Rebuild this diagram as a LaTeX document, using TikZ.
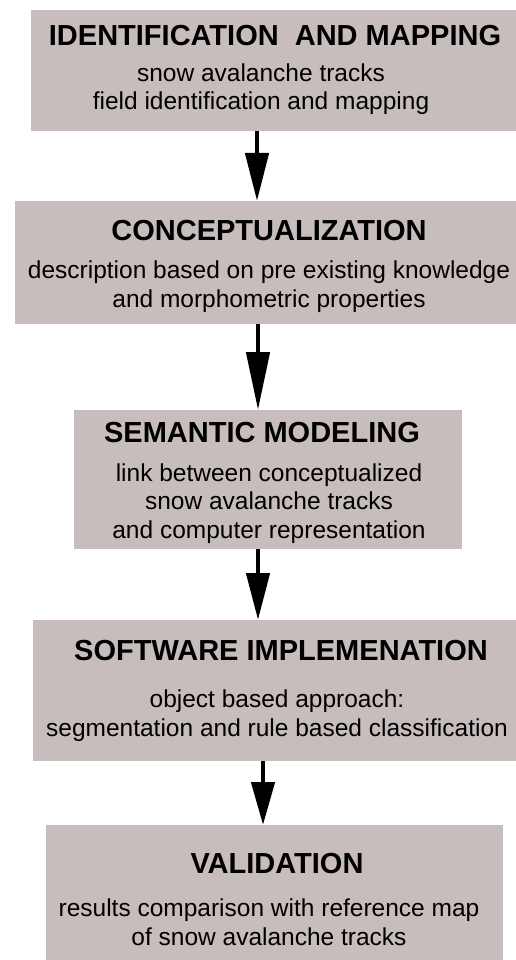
\documentclass[tikz,border=0pt]{standalone}
\usepackage{fontspec}
\setmainfont{Liberation Sans}
\usepackage{tikz}
\usetikzlibrary{arrows.meta}
\definecolor{boxgray}{RGB}{199,189,189}
\tikzset{
  stage/.style={fill=boxgray, draw=none, inner sep=0pt, anchor=north west},
  heading/.style={font=\bfseries\fontsize{29}{33}\selectfont, inner sep=0pt, anchor=base},
  detail/.style={font=\fontsize{24.5}{28.5}\selectfont, align=center, inner sep=0pt, anchor=base},
  flow/.style={line width=4.5pt, -{Triangle[length=#1, width=23pt]}},
  flow/.default=48pt
}

\begin{document}
\begin{tikzpicture}[x=1pt, y=-1pt]
    \path[use as bounding box, clip] (0,0) rectangle (516,960);
    \node[stage, minimum width=485pt, minimum height=121pt] (ident) at (31,10) {};
    \node[stage, minimum width=501pt, minimum height=123pt] (concept) at (15,201) {};
    \node[stage, minimum width=388pt, minimum height=139pt] (semantic) at (74,410) {};
    \node[stage, minimum width=483pt, minimum height=141pt] (software) at (33,620) {};
    \node[stage, minimum width=457pt, minimum height=150pt] (valid) at (46,825) {};

    \node[heading] (identtitle) at (275,46) {IDENTIFICATION\ \ AND MAPPING};
    \node[detail] (identtext) at (261,110) {snow avalanche tracks\\field identification and mapping};
    \node[heading] (concepttitle) at (269,240) {CONCEPTUALIZATION};
    \node[detail] (concepttext) at (269,307) {description based on pre existing knowledge\\and morphometric properties};
    \node[heading] (semantictitle) at (262,442) {SEMANTIC MODELING};
    \node[detail] (semantictext) at (269,538) {link between conceptualized\\snow avalanche tracks\\and computer representation};
    \node[heading] (softwaretitle) at (281,660) {SOFTWARE IMPLEMENATION};
    \node[detail] (softwaretext) at (277,736) {object based approach:\\segmentation and rule based classification};
    \node[heading] (validtitle) at (277,873) {VALIDATION};
    \node[detail] (validtext) at (269,945) {results comparison with reference map\\of snow avalanche tracks};

    \foreach \a/\b/\x/\l in {ident/concept/257/48pt, concept/semantic/258/58pt,
        semantic/software/258/47pt, software/valid/263/43pt}
    \draw[flow=\l] (\a.south -| \x,0) -- (\b.north -| \x,0);
\end{tikzpicture}
\end{document}
